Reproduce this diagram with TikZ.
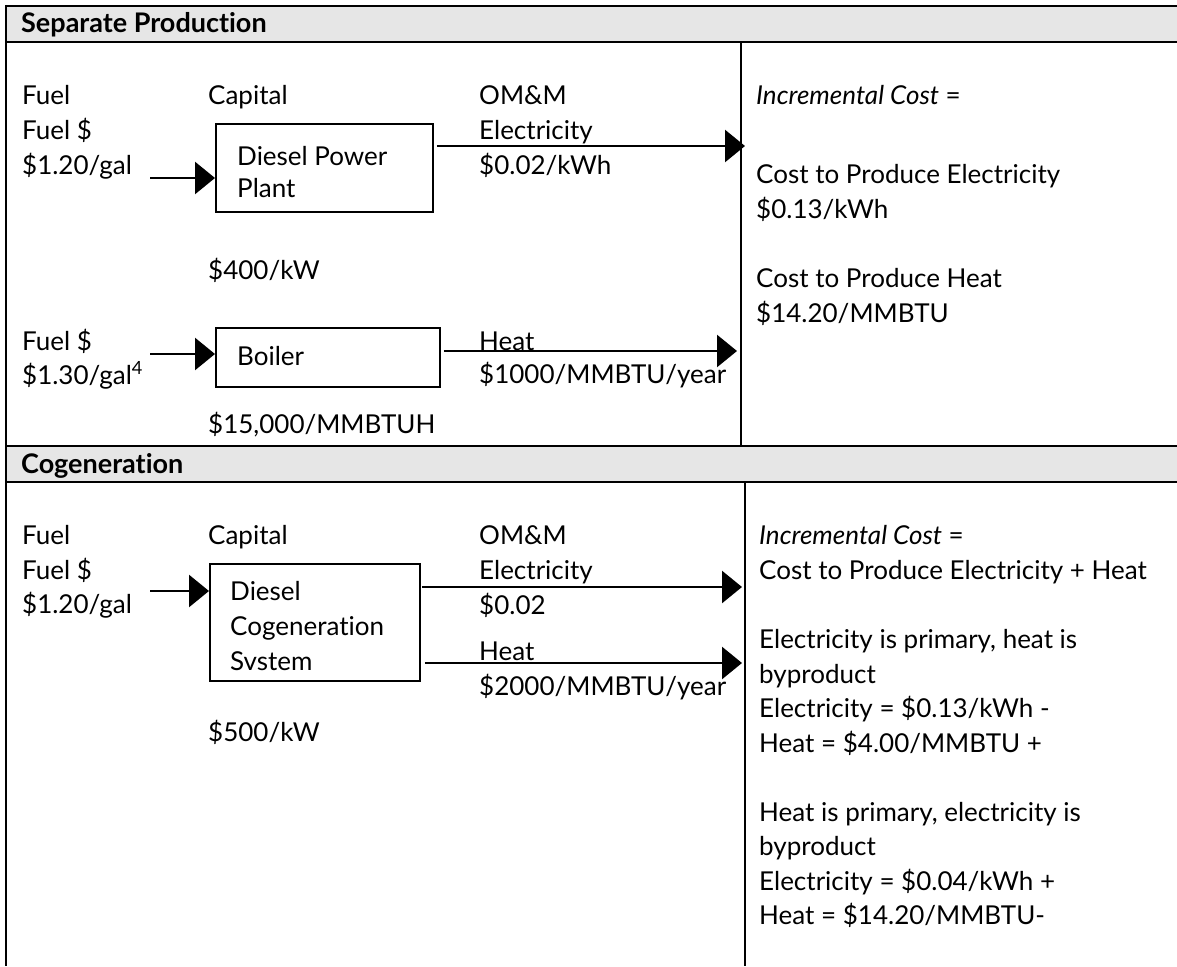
\documentclass[tikz,border=0pt]{standalone}
\usepackage{fontspec}
\setmainfont{Lato}[Ligatures=NoCommon]
\usetikzlibrary{arrows.meta}
\definecolor{hdrgray}{RGB}{230,230,230}
\tikzset{
  txt/.style={anchor=base west, inner sep=0pt, font=\fontsize{26}{30}\selectfont},
  hdrtxt/.style={anchor=base west, inner sep=0pt, font=\fontsize{27}{30}\selectfont\bfseries},
  procbox/.style={draw, line width=1.8pt, anchor=north west, inner sep=0pt},
  rule/.style={line width=2.4pt},
  arr/.style={line width=2.6pt, -{Triangle[length=20pt,width=32pt]}},
}
\begin{document}
\begin{tikzpicture}[x=1pt,y=-1pt]
\useasboundingbox (0,0) rectangle (1177,966);
% header fills
\fill[hdrgray] (6,6) rectangle (1177,42);
\fill[hdrgray] (6,446) rectangle (1177,482);
% table rules
\draw[rule] (5,6) -- (1177,6);
\draw[rule] (5,42) -- (1177,42);
\draw[rule] (5,446) -- (1177,446);
\draw[rule] (5,482) -- (1177,482);
\draw[rule] (6,5) -- (6,966);
\draw[rule] (741,42) -- (741,446);
\draw[rule] (745,482) -- (745,966);

% headers
\node[hdrtxt] (h1) at (21,33) {Separate Production};
\node[hdrtxt] (h2) at (21,473) {Cogeneration};

% ---------- Separate production ----------
\node[txt] (a1) at (22,104) {Fuel};
\node[txt] (a2) at (22,139) {Fuel \$};
\node[txt] (a3) at (22,174) {\$1.20/gal};
\node[txt] (acap) at (208,104) {Capital};
\node[procbox, minimum width=217pt, minimum height=88pt] (dpp) at (215,123) {};
\node[txt] (dpp1) at (237,165) {Diesel Power};
\node[txt] (dpp2) at (237,197) {Plant};
\node[txt] (a400) at (208,279) {\$400/kW};
\node[txt] (aom) at (479,104) {OM\&M};
\node[txt] (ael) at (479,139) {Electricity};
\node[txt] (ael2) at (479,174) {\$0.02/kWh};

\node[txt] (b1) at (22,350) {Fuel \$};
\node[txt] (b2) at (22,384) {\$1.30/gal\textsuperscript{4}};
\node[procbox, minimum width=224pt, minimum height=59pt] (boil) at (215,327) {};
\node[txt] (boilt) at (237,365) {Boiler};
\node[txt] (b15) at (208,433) {\$15,000/MMBTUH};
\node[txt] (bheat) at (479,350) {Heat};
\node[txt] (bheat2) at (479,383) {\$1000/MMBTU/year};

\node[txt] (r1) at (756,104) {\textit{Incremental Cost} =};
\node[txt] (r2) at (756,183) {Cost to Produce Electricity};
\node[txt] (r3) at (756,218) {\$0.13/kWh};
\node[txt] (r4) at (756,287) {Cost to Produce Heat};
\node[txt] (r5) at (756,322) {\$14.20/MMBTU};

\coordinate (inA) at (150,178);
\coordinate (outA) at (745,146);
\coordinate (inB) at (150,354);
\coordinate (outB) at (737,351);
\draw[arr] (inA) -- (inA -| dpp.west);
\draw[arr] ([xshift=3pt]dpp.east |- outA) -- (outA);
\draw[arr] (inB) -- (inB -| boil.west);
\draw[arr] ([xshift=3pt]boil.east |- outB) -- (outB);

% ---------- Cogeneration ----------
\node[txt] (c1) at (22,544) {Fuel};
\node[txt] (c2) at (22,579) {Fuel \$};
\node[txt] (c3) at (22,613) {\$1.20/gal};
\node[txt] (ccap) at (208,544) {Capital};
\node[procbox, minimum width=210pt, minimum height=117pt] (cog) at (209,563) {};
\node[txt] (cog1) at (230,600) {Diesel};
\node[txt] (cog2) at (230,635) {Cogeneration};
\node[txt] (cog3) at (230,670) {Svstem};
\node[txt] (c500) at (208,741) {\$500/kW};
\node[txt] (com) at (479,544) {OM\&M};
\node[txt] (cel) at (479,579) {Electricity};
\node[txt] (cel2) at (479,614) {\$0.02};
\node[txt] (cheat) at (479,660) {Heat};
\node[txt] (cheat2) at (479,695) {\$2000/MMBTU/year};

\node[txt] (s1) at (759,544) {\textit{Incremental Cost} =};
\node[txt] (s2) at (759,579) {Cost to Produce Electricity + Heat};
\node[txt] (s3) at (759,648) {Electricity is primary, heat is};
\node[txt] (s4) at (759,683) {byproduct};
\node[txt] (s5) at (759,717) {Electricity = \$0.13/kWh -};
\node[txt] (s6) at (759,752) {Heat = \$4.00/MMBTU +};
\node[txt] (s7) at (759,821) {Heat is primary, electricity is};
\node[txt] (s8) at (759,855) {byproduct};
\node[txt] (s9) at (759,890) {Electricity = \$0.04/kWh +};
\node[txt] (s10) at (759,924) {Heat = \$14.20/MMBTU-};

\coordinate (inC) at (150,591);
\coordinate (outC1) at (742,587);
\coordinate (outC2) at (742,663);
\draw[arr] (inC) -- (inC -| cog.west);
\draw[arr] ([xshift=1pt]cog.east |- outC1) -- (outC1);
\draw[arr] ([xshift=4pt]cog.east |- outC2) -- (outC2);
\end{tikzpicture}
\end{document}
